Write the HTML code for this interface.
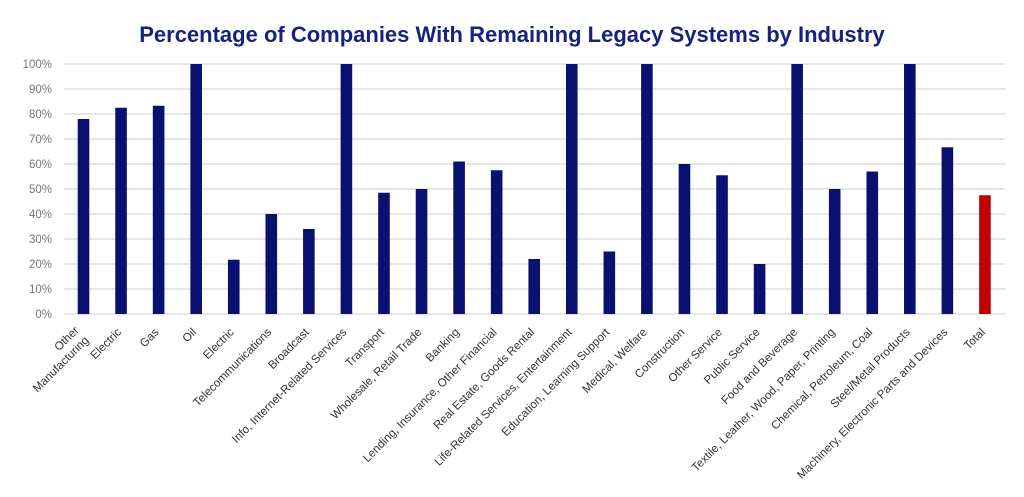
<!DOCTYPE html>
<html><head><meta charset="utf-8"><style>body{margin:0;background:#fff}svg{display:block}</style></head><body>
<svg width="1024" height="497" xmlns="http://www.w3.org/2000/svg" font-family="Liberation Sans, sans-serif">
<text x="512" y="42" text-anchor="middle" font-size="22" font-weight="bold" fill="#16227f">Percentage of Companies With Remaining Legacy Systems by Industry</text>
<g stroke="#dddddd" stroke-width="1.5">
<line x1="64" x2="1005" y1="64" y2="64"/><line x1="64" x2="1005" y1="89" y2="89"/><line x1="64" x2="1005" y1="114" y2="114"/><line x1="64" x2="1005" y1="139" y2="139"/><line x1="64" x2="1005" y1="164" y2="164"/><line x1="64" x2="1005" y1="189" y2="189"/><line x1="64" x2="1005" y1="214" y2="214"/><line x1="64" x2="1005" y1="239" y2="239"/><line x1="64" x2="1005" y1="264" y2="264"/><line x1="64" x2="1005" y1="289" y2="289"/><line x1="64" x2="1005" y1="314" y2="314"/>
</g>
<g font-size="11.5" fill="#777" text-anchor="end">
<text x="52" y="68">100%</text><text x="52" y="93">90%</text><text x="52" y="118">80%</text><text x="52" y="143">70%</text><text x="52" y="168">60%</text><text x="52" y="193">50%</text><text x="52" y="218">40%</text><text x="52" y="243">30%</text><text x="52" y="268">20%</text><text x="52" y="293">10%</text><text x="52" y="318">0%</text>
</g>
<g id="bars"></g>
<g id="labels" font-size="11.6" fill="#333" text-anchor="end"></g>
<script>
var v=[78,82.5,83.3,100,21.7,40,34,100,48.5,50,61,57.5,22,100,25,100,60,55.5,20,100,50,57,100,66.7,47.5];
var L=[["Other","Manufacturing"],["Electric"],["Gas"],["Oil"],["Electric"],["Telecommunications"],["Broadcast"],["Info, Internet-Related Services"],["Transport"],["Wholesale, Retail Trade"],["Banking"],["Lending, Insurance, Other Financial"],["Real Estate, Goods Rental"],["Life-Related Services, Entertainment"],["Education, Learning Support"],["Medical, Welfare"],["Construction"],["Other Service"],["Public Service"],["Food and Beverage"],["Textile, Leather, Wood, Paper, Printing"],["Chemical, Petroleum, Coal"],["Steel/Metal Products"],["Machinery, Electronic Parts and Devices"],["Total"]];
var ns="http://www.w3.org/2000/svg",b=document.getElementById("bars"),lg=document.getElementById("labels");
for(var i=0;i<25;i++){var cx=83.5+37.56*i;var r=document.createElementNS(ns,"rect");var h=v[i]*2.5;
r.setAttribute("x",cx-5.8);r.setAttribute("width",11.6);r.setAttribute("y",314-h);r.setAttribute("height",h);r.setAttribute("fill",i==24?"#c00000":"#0a1070");b.appendChild(r);
var t=document.createElementNS(ns,"text");t.setAttribute("transform","translate("+(cx-2)+",330) rotate(-45)");
if(L[i].length==2){var a=document.createElementNS(ns,"tspan");a.setAttribute("x",0);a.setAttribute("y",0);a.textContent=L[i][0];var c=document.createElementNS(ns,"tspan");c.setAttribute("x",0);c.setAttribute("y",14);c.textContent=L[i][1];t.appendChild(a);t.appendChild(c);t.setAttribute("transform","translate("+(cx-4)+",331) rotate(-45)");}
else{t.setAttribute("x",0);t.setAttribute("y",4);t.textContent=L[i][0];}
lg.appendChild(t);}
</script>
</svg>
</body></html>
